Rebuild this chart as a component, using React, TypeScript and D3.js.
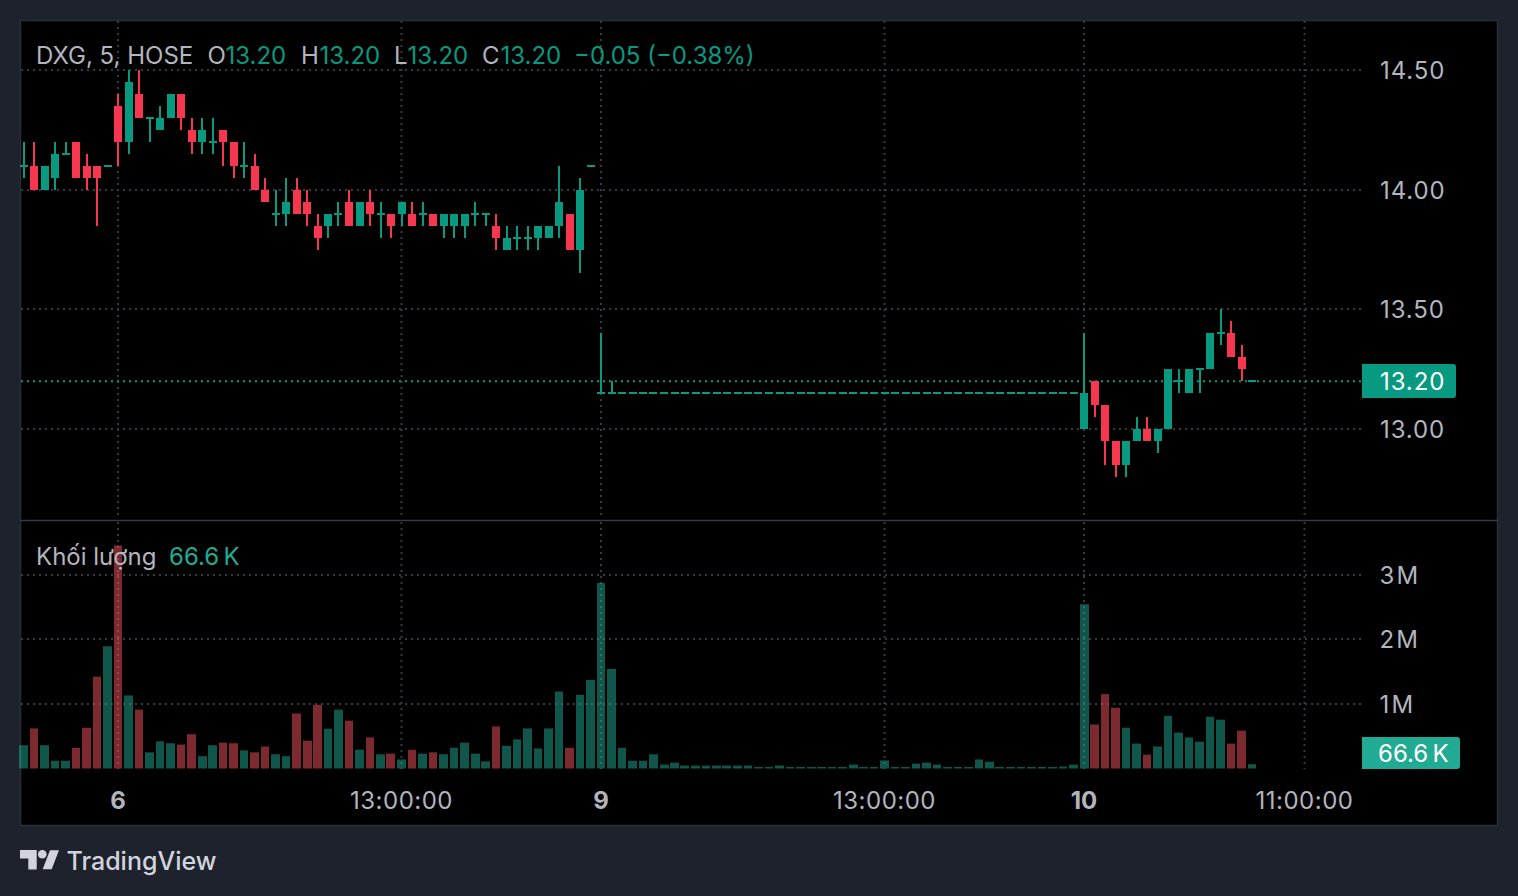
import React from "react";
import * as d3 from "d3";

const opens = [
  14.10,14.10,14.00,14.05,14.15,14.20,14.10,14.10,14.10,14.35,
  14.20,14.40,14.30,14.25,14.30,14.40,14.25,14.20,14.20,14.25,
  14.20,14.10,14.10,14.00,13.90,13.90,14.00,13.95,13.85,13.85,
  13.90,13.95,13.85,13.95,13.90,13.90,13.90,13.90,13.90,13.90,
  13.85,13.85,13.85,13.90,13.90,13.85,13.75,13.80,13.80,13.80,
  13.80,13.85,13.90,13.75,14.10,13.15,13.15,13.15,13.15,13.15,
  13.15,13.15,13.15,13.15,13.15,13.15,13.15,13.15,13.15,13.15,
  13.15,13.15,13.15,13.15,13.15,13.15,13.15,13.15,13.15,13.15,
  13.15,13.15,13.15,13.15,13.15,13.15,13.15,13.15,13.15,13.15,
  13.15,13.15,13.15,13.15,13.15,13.15,13.15,13.15,13.15,13.15,
  13.15,13.00,13.20,13.10,12.95,12.85,12.95,13.00,12.95,13.00,
  13.20,13.15,13.25,13.25,13.40,13.40,13.30,13.20,
];
const highs = [
  14.20,14.20,14.10,14.20,14.20,14.20,14.15,14.10,14.10,14.40,
  14.50,14.50,14.30,14.35,14.40,14.40,14.30,14.30,14.30,14.25,
  14.20,14.20,14.15,14.05,14.00,14.05,14.05,14.00,13.90,13.90,
  13.95,14.00,13.95,14.00,13.95,13.90,13.95,13.95,13.95,13.90,
  13.90,13.90,13.90,13.95,13.90,13.90,13.85,13.85,13.85,13.85,
  13.85,14.10,13.90,14.05,14.10,13.40,13.20,13.15,13.15,13.15,
  13.15,13.15,13.15,13.15,13.15,13.15,13.15,13.15,13.15,13.15,
  13.15,13.15,13.15,13.15,13.15,13.15,13.15,13.15,13.15,13.15,
  13.15,13.15,13.15,13.15,13.15,13.15,13.15,13.15,13.15,13.15,
  13.15,13.15,13.15,13.15,13.15,13.15,13.15,13.15,13.15,13.15,
  13.15,13.40,13.20,13.10,12.95,12.95,13.05,13.05,13.00,13.25,
  13.25,13.25,13.25,13.40,13.50,13.45,13.35,13.20,
];
const lows = [
  14.05,14.00,14.00,14.00,14.15,14.05,14.00,13.85,14.10,14.10,
  14.15,14.30,14.20,14.25,14.30,14.25,14.15,14.15,14.15,14.10,
  14.05,14.05,14.00,13.95,13.85,13.85,13.90,13.85,13.75,13.80,
  13.85,13.85,13.85,13.85,13.80,13.80,13.85,13.85,13.85,13.85,
  13.80,13.80,13.80,13.85,13.85,13.75,13.75,13.75,13.75,13.75,
  13.80,13.80,13.75,13.65,14.10,13.15,13.15,13.15,13.15,13.15,
  13.15,13.15,13.15,13.15,13.15,13.15,13.15,13.15,13.15,13.15,
  13.15,13.15,13.15,13.15,13.15,13.15,13.15,13.15,13.15,13.15,
  13.15,13.15,13.15,13.15,13.15,13.15,13.15,13.15,13.15,13.15,
  13.15,13.15,13.15,13.15,13.15,13.15,13.15,13.15,13.15,13.15,
  13.15,13.00,13.05,12.85,12.80,12.80,12.95,12.95,12.90,13.00,
  13.15,13.15,13.15,13.25,13.35,13.30,13.20,13.20,
];
const closes = [
  14.10,14.00,14.10,14.15,14.15,14.05,14.05,14.05,14.10,14.20,
  14.45,14.30,14.30,14.30,14.40,14.30,14.20,14.25,14.20,14.20,
  14.10,14.10,14.00,13.95,13.90,13.95,13.90,13.90,13.80,13.90,
  13.90,13.85,13.95,13.90,13.90,13.85,13.95,13.85,13.90,13.85,
  13.90,13.90,13.90,13.90,13.90,13.80,13.80,13.80,13.80,13.85,
  13.85,13.95,13.75,14.00,14.10,13.15,13.15,13.15,13.15,13.15,
  13.15,13.15,13.15,13.15,13.15,13.15,13.15,13.15,13.15,13.15,
  13.15,13.15,13.15,13.15,13.15,13.15,13.15,13.15,13.15,13.15,
  13.15,13.15,13.15,13.15,13.15,13.15,13.15,13.15,13.15,13.15,
  13.15,13.15,13.15,13.15,13.15,13.15,13.15,13.15,13.15,13.15,
  13.15,13.15,13.10,12.95,12.85,12.95,13.00,12.95,13.00,13.25,
  13.20,13.25,13.25,13.40,13.40,13.30,13.25,13.20,
];
// volume in millions of shares
const volumes = [
  0.36,0.62,0.36,0.12,0.12,0.32,0.63,1.42,1.89,3.45,
  1.13,0.91,0.25,0.42,0.39,0.37,0.53,0.19,0.36,0.40,
  0.39,0.28,0.25,0.34,0.22,0.19,0.85,0.43,0.985,0.615,
  0.91,0.74,0.29,0.48,0.22,0.23,0.14,0.29,0.23,0.25,
  0.22,0.32,0.40,0.23,0.11,0.65,0.35,0.45,0.62,0.31,
  0.62,1.19,0.32,1.14,1.37,2.87,1.54,0.32,0.12,0.12,
  0.22,0.06,0.09,0.045,0.045,0.045,0.045,0.045,0.045,0.045,
  0.025,0.025,0.045,0.025,0.025,0.025,0.025,0.025,0.025,0.06,
  0.025,0.025,0.125,0.025,0.025,0.075,0.09,0.06,0.025,0.025,
  0.025,0.14,0.105,0.025,0.025,0.025,0.025,0.025,0.025,0.03,
  0.06,2.54,0.68,1.15,0.94,0.63,0.385,0.215,0.34,0.815,
  0.555,0.48,0.415,0.80,0.755,0.385,0.585,0.0666,
];

const priceTicks = [14.5, 14.0, 13.5, 13.0];
const volumeTicks = [3, 2, 1];
const volumeTickLabels = ["3\u200aM", "2\u200aM", "1\u200aM"];
const timeTickIndex = [9, 36, 55, 82, 101, 122];
const timeTickLabels = ["6", "13:00:00", "9", "13:00:00", "10", "11:00:00"];
const timeTickBold = [true, false, true, false, true, false];
const lastPrice = 13.2;
const lastVolumeLabel = "66.6\u2009K";

const BG = "#1e222d";
const BORDER = "#2a2e39";
const GRID = "#363a45";
const TEXT = "#b2b5be";
const UP = "#089981";
const DOWN = "#f7374f";
const VOL_UP = "rgba(34,171,148,0.5)";
const VOL_DOWN = "rgba(247,82,95,0.5)";
const FONT = "Inter, 'Noto Sans', sans-serif";

const x = d3.scaleLinear().domain([0, 117]).range([23.5, 23.5 + 117 * 10.5]);
const y = d3.scaleLinear().domain([13, 14.5]).range([429.2, 69.8]);
const v = d3.scaleLinear().domain([0, 3]).range([768.5, 574.5]);

const PLOT_L = 21;
const PLOT_R = 1362;

export default function App() {
  React.useEffect(() => {
    document.body.style.margin = "0";
    document.body.style.background = BG;
  }, []);
  const fs = 24;
  return (
    <svg
      width={1518}
      height={896}
      viewBox="0 0 1518 896"
      style={{ position: "fixed", left: 0, top: 0, display: "block" }}
      fontFamily={FONT}
    >
      <rect width={1518} height={896} fill={BG} />
      <rect x={20.5} y={20.5} width={1477} height={805} fill="#000" stroke={BORDER} strokeWidth={1.5} />

      {/* grid */}
      {priceTicks.map((t) => (
        <line key={t} x1={PLOT_L} x2={PLOT_R} y1={Math.round(y(t))} y2={Math.round(y(t))} stroke={GRID} strokeWidth={2} strokeDasharray="2 4" />
      ))}
      {volumeTicks.map((t) => (
        <line key={t} x1={PLOT_L} x2={PLOT_R} y1={Math.round(v(t))} y2={Math.round(v(t))} stroke={GRID} strokeWidth={2} strokeDasharray="2 4" />
      ))}
      {timeTickIndex.map((t) => (
        <g key={t}>
          <line x1={x(t)} x2={x(t)} y1={21} y2={519} stroke={GRID} strokeWidth={2} strokeDasharray="2 4" />
          <line x1={x(t)} x2={x(t)} y1={522} y2={769} stroke={GRID} strokeWidth={2} strokeDasharray="2 4" />
        </g>
      ))}

      {/* last price line */}
      <line x1={PLOT_L} x2={PLOT_R} y1={y(lastPrice)} y2={y(lastPrice)} stroke={UP} strokeWidth={2} strokeDasharray="2 4" />

      {/* candles */}
      {opens.map((o, i) => {
        const c = closes[i];
        const color = c >= o ? UP : DOWN;
        const cx = x(i);
        const top = Math.round(y(Math.max(o, c)));
        const bot = Math.round(y(Math.min(o, c)));
        const flat = bot - top < 2;
        return (
          <g key={i} fill={color}>
            <rect x={Math.round(cx - 1)} y={Math.round(y(highs[i]))} width={2} height={Math.max(0, Math.round(y(lows[i])) - Math.round(y(highs[i])))} />
            <rect x={Math.round(cx - 4)} y={flat ? top - 1 : top} width={8} height={flat ? 2 : bot - top} />
          </g>
        );
      })}

      {/* volume */}
      {volumes.map((val, i) => {
        const cx = x(i);
        const l = Math.floor(cx - 4);
        const r = Math.ceil(cx + 4);
        const top = Math.min(v(val), v(0) - 1.5);
        return <rect key={i} x={l} y={top} width={r - l} height={v(0) - top} fill={closes[i] >= opens[i] ? VOL_UP : VOL_DOWN} />;
      })}

      {/* pane divider */}
      <line x1={20} x2={1498} y1={520.5} y2={520.5} stroke="#363a45" strokeWidth={1.5} />

      {/* legend */}
      <g fontSize={fs}>
        <text x={36} y={64} fill={TEXT}>DXG, 5, HOSE</text>
        <text x={207.5} y={64} fill={TEXT}>O</text>
        <text x={225.5} y={64} fill={UP}>13.20</text>
        <text x={301} y={64} fill={TEXT}>H</text>
        <text x={319.5} y={64} fill={UP}>13.20</text>
        <text x={394} y={64} fill={TEXT}>L</text>
        <text x={407.5} y={64} fill={UP}>13.20</text>
        <text x={482} y={64} fill={TEXT}>C</text>
        <text x={500.5} y={64} fill={UP}>13.20</text>
        <text x={574} y={64} fill={UP}>{"\u22120.05 (\u22120.38%)"}</text>
        <text x={36} y={565} fill={TEXT}>{"Khối lượng"}</text>
        <text x={169} y={565} fill="#22ab94">{lastVolumeLabel}</text>
      </g>

      {/* price axis */}
      <g fontSize={fs} fill={TEXT}>
        {priceTicks.map((t) => (
          <text key={t} x={1380} y={y(t) + 9} letterSpacing={0.9}>{d3.format(".2f")(t)}</text>
        ))}
        {volumeTicks.map((t, i) => (
          <text key={t} x={1379.5} y={v(t) + 9}>{volumeTickLabels[i]}</text>
        ))}
      </g>
      <path d="M1362 364h91a3 3 0 0 1 3 3v28a3 3 0 0 1-3 3h-91z" fill={UP} />
      <text x={1380} y={390} fontSize={fs} fill="#fff" letterSpacing={0.9}>{d3.format(".2f")(lastPrice)}</text>
      <path d="M1362 737h95a3 3 0 0 1 3 3v26a3 3 0 0 1-3 3h-95z" fill="#22ab94" />
      <text x={1378} y={762} fontSize={fs} fill="#fff">{lastVolumeLabel}</text>

      {/* time axis */}
      {timeTickIndex.map((t, i) => (
        <text
          key={t}
          x={x(t)}
          y={808.5}
          fontSize={fs}
          textAnchor="middle"
          fill={TEXT}
          letterSpacing={timeTickBold[i] ? 0 : 0.5}
          fontWeight={timeTickBold[i] ? 700 : 400}
        >
          {timeTickLabels[i]}
        </text>
      ))}

      {/* logo */}
      <g fill="#d1d4dc">
        <path d="M20 850h16.7v19.4h-8.4v-11H20z" />
        <circle cx={42.3} cy={854.3} r={4.3} />
        <path d="M50 850.3h9l-7.3 19h-9z" />
        <text x={66.5} y={870} fontSize={25} fontWeight={500}>TradingView</text>
      </g>
    </svg>
  );
}
